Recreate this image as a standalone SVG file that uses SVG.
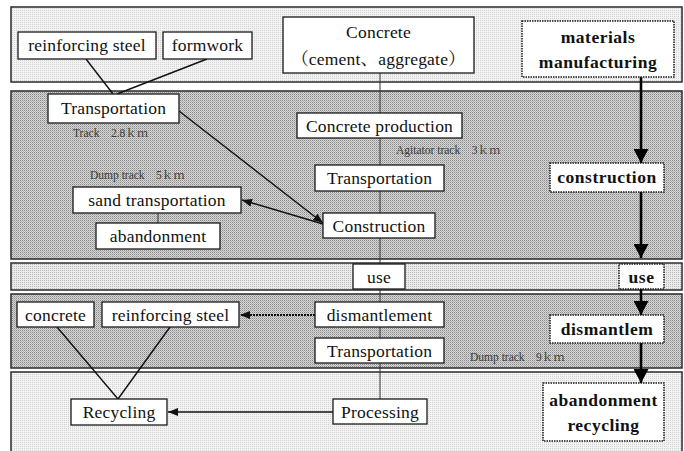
<svg xmlns="http://www.w3.org/2000/svg" width="684" height="451" viewBox="0 0 684 451">
<style>
.band{stroke:#2a2a2a;stroke-width:1.5}
.box{fill:#fff;stroke:#1a1a1a;stroke-width:1.3}
.dbox{fill:#fff;stroke:#1a1a1a;stroke-width:1.5;stroke-dasharray:1.5 1}
text{font-family:"Liberation Serif","Noto Serif CJK JP","Noto Sans CJK JP",serif;font-size:17.5px;letter-spacing:0.2px;fill:#111;text-anchor:middle}
.b{font-weight:bold;letter-spacing:0.5px}
.lbl{font-size:11.5px;letter-spacing:0;fill:#3a3a3a;text-anchor:start}
.ln{stroke:#111;stroke-width:1.4;fill:none}
.vl{stroke:#333;stroke-width:1;fill:none}
.thick{stroke:#000;stroke-width:2.6;fill:none}
</style>
<defs>
<pattern id="lt" width="2" height="2" patternUnits="userSpaceOnUse"><rect width="2" height="2" fill="#f3f3f3"/><rect width="1" height="1" fill="#d2d2d2"/></pattern>
<pattern id="md" width="2" height="2" patternUnits="userSpaceOnUse"><rect width="2" height="2" fill="#ebebeb"/><rect width="1" height="1" fill="#bcbcbc"/></pattern>
<pattern id="dk" width="2" height="2" patternUnits="userSpaceOnUse"><rect width="2" height="2" fill="#d6d6d6"/><rect width="1" height="1" fill="#8a8a8a"/><rect x="1" y="1" width="1" height="1" fill="#b0b0b0"/></pattern>
<marker id="ah" viewBox="0 0 14 15" refX="14" refY="7.5" markerWidth="14" markerHeight="15" markerUnits="userSpaceOnUse" orient="auto"><path d="M0,0 L14,7.5 L0,15 z" fill="#000"/></marker>
<marker id="sh" viewBox="0 0 10 8" refX="10" refY="4" markerWidth="10" markerHeight="8" markerUnits="userSpaceOnUse" orient="auto"><path d="M0,0 L10,4 L0,8 z" fill="#111"/></marker>
</defs>

<g id="bands">
<rect class="band" x="11" y="7" width="671" height="75" fill="url(#lt)"/>
<rect class="band" x="11" y="91" width="671" height="168" fill="url(#dk)"/>
<rect class="band" x="11" y="263" width="671" height="27" fill="url(#md)"/>
<rect class="band" x="11" y="294" width="671" height="74" fill="url(#dk)"/>
<rect class="band" x="11" y="372" width="671" height="82" fill="url(#lt)"/>
</g>

<g id="connectors">
<line class="ln" x1="86" y1="59" x2="113" y2="94"/>
<line class="ln" x1="207" y1="59" x2="117" y2="94"/>
<line class="ln" x1="179" y1="111" x2="323" y2="223" marker-end="url(#sh)"/>
<line class="ln" x1="323" y1="224" x2="242" y2="200" marker-end="url(#sh)"/>
<line class="vl" x1="158" y1="213" x2="158" y2="223"/>
<line class="vl" x1="380" y1="73" x2="380" y2="113"/>
<line class="vl" x1="380" y1="138" x2="380" y2="165"/>
<line class="vl" x1="380" y1="191" x2="380" y2="213"/>
<line class="vl" x1="380" y1="238" x2="380" y2="264"/>
<line class="vl" x1="380" y1="289" x2="380" y2="302"/>
<line class="vl" x1="380" y1="327" x2="380" y2="338"/>
<line class="vl" x1="380" y1="363" x2="380" y2="399"/>
<line x1="315" y1="315" x2="240" y2="315" stroke="#111" stroke-width="2" stroke-dasharray="2 1" marker-end="url(#sh)"/>
<line class="ln" x1="57" y1="327" x2="118" y2="399"/>
<line class="ln" x1="170" y1="327" x2="118" y2="399"/>
<line class="ln" x1="333" y1="412" x2="168" y2="412" marker-end="url(#sh)"/>
<line class="thick" x1="641" y1="77" x2="641" y2="163" marker-end="url(#ah)"/>
<line class="thick" x1="641" y1="192" x2="641" y2="258" marker-end="url(#ah)"/>
<line class="thick" x1="641" y1="289" x2="641" y2="315" marker-end="url(#ah)"/>
<line class="thick" x1="641" y1="343" x2="641" y2="383" marker-end="url(#ah)"/>
</g>

<g id="labels">
<text class="lbl" x="73" y="137">Track　2.8ｋｍ</text>
<text class="lbl" x="90" y="179">Dump track　5ｋｍ</text>
<text class="lbl" x="396" y="154">Agitator track　3ｋｍ</text>
<text class="lbl" x="470" y="361">Dump track　9ｋｍ</text>
</g>

<g id="n-rsteel1"><rect class="box" x="18" y="32" width="138" height="27"/><text x="87" y="51">reinforcing steel</text></g>
<g id="n-formwork"><rect class="box" x="163" y="32" width="89" height="27"/><text x="207.5" y="51">formwork</text></g>
<g id="n-concrete"><rect class="box" x="283" y="17" width="191" height="56"/><text x="378.5" y="38">Concrete</text><text x="378.5" y="65">（cement、aggregate）</text></g>
<g id="n-materials"><rect class="dbox" x="522" y="21" width="152" height="56"/><text class="b" x="598" y="43">materials</text><text class="b" x="598" y="68">manufacturing</text></g>
<g id="n-transport1"><rect class="box" x="48" y="94" width="131" height="29"/><text x="113.5" y="114">Transportation</text></g>
<g id="n-cprod"><rect class="box" x="297" y="113" width="165" height="25"/><text x="379.5" y="131.5">Concrete production</text></g>
<g id="n-transport2"><rect class="box" x="315" y="165" width="129" height="26"/><text x="379.5" y="184">Transportation</text></g>
<g id="n-construction1"><rect class="box" x="323" y="213" width="112" height="25"/><text x="379" y="231.5">Construction</text></g>
<g id="n-construction2"><rect class="dbox" x="550" y="163" width="114" height="29"/><text class="b" x="607" y="183">construction</text></g>
<g id="n-sand"><rect class="box" x="73" y="187" width="168" height="26"/><text x="157" y="206">sand transportation</text></g>
<g id="n-abandon1"><rect class="box" x="96" y="223" width="124" height="26"/><text x="158" y="242">abandonment</text></g>
<g id="n-use1"><rect class="box" x="353" y="264" width="52" height="25"/><text x="379" y="282.5">use</text></g>
<g id="n-use2"><rect class="dbox" x="619" y="264" width="45" height="25"/><text class="b" x="641.5" y="282.5">use</text></g>
<g id="n-concrete2"><rect class="box" x="17" y="302" width="77" height="25"/><text x="55.5" y="320.5">concrete</text></g>
<g id="n-rsteel2"><rect class="box" x="102" y="302" width="137" height="25"/><text x="170.5" y="320.5">reinforcing steel</text></g>
<g id="n-dismantle1"><rect class="box" x="315" y="302" width="129" height="25"/><text x="379.5" y="320.5">dismantlement</text></g>
<g id="n-transport3"><rect class="box" x="315" y="338" width="129" height="25"/><text x="379.5" y="356.5">Transportation</text></g>
<g id="n-dismantle2"><rect class="dbox" x="550" y="315" width="114" height="28"/><text class="b" x="607" y="335">dismantlem</text></g>
<g id="n-recycling"><rect class="box" x="71" y="399" width="96" height="26"/><text x="119" y="418">Recycling</text></g>
<g id="n-processing"><rect class="box" x="333" y="399" width="94" height="25"/><text x="380" y="417.5">Processing</text></g>
<g id="n-abandon2"><rect class="dbox" x="543" y="383" width="121" height="58"/><text class="b" x="603.5" y="406">abandonment</text><text class="b" x="603.5" y="431">recycling</text></g>
</svg>
